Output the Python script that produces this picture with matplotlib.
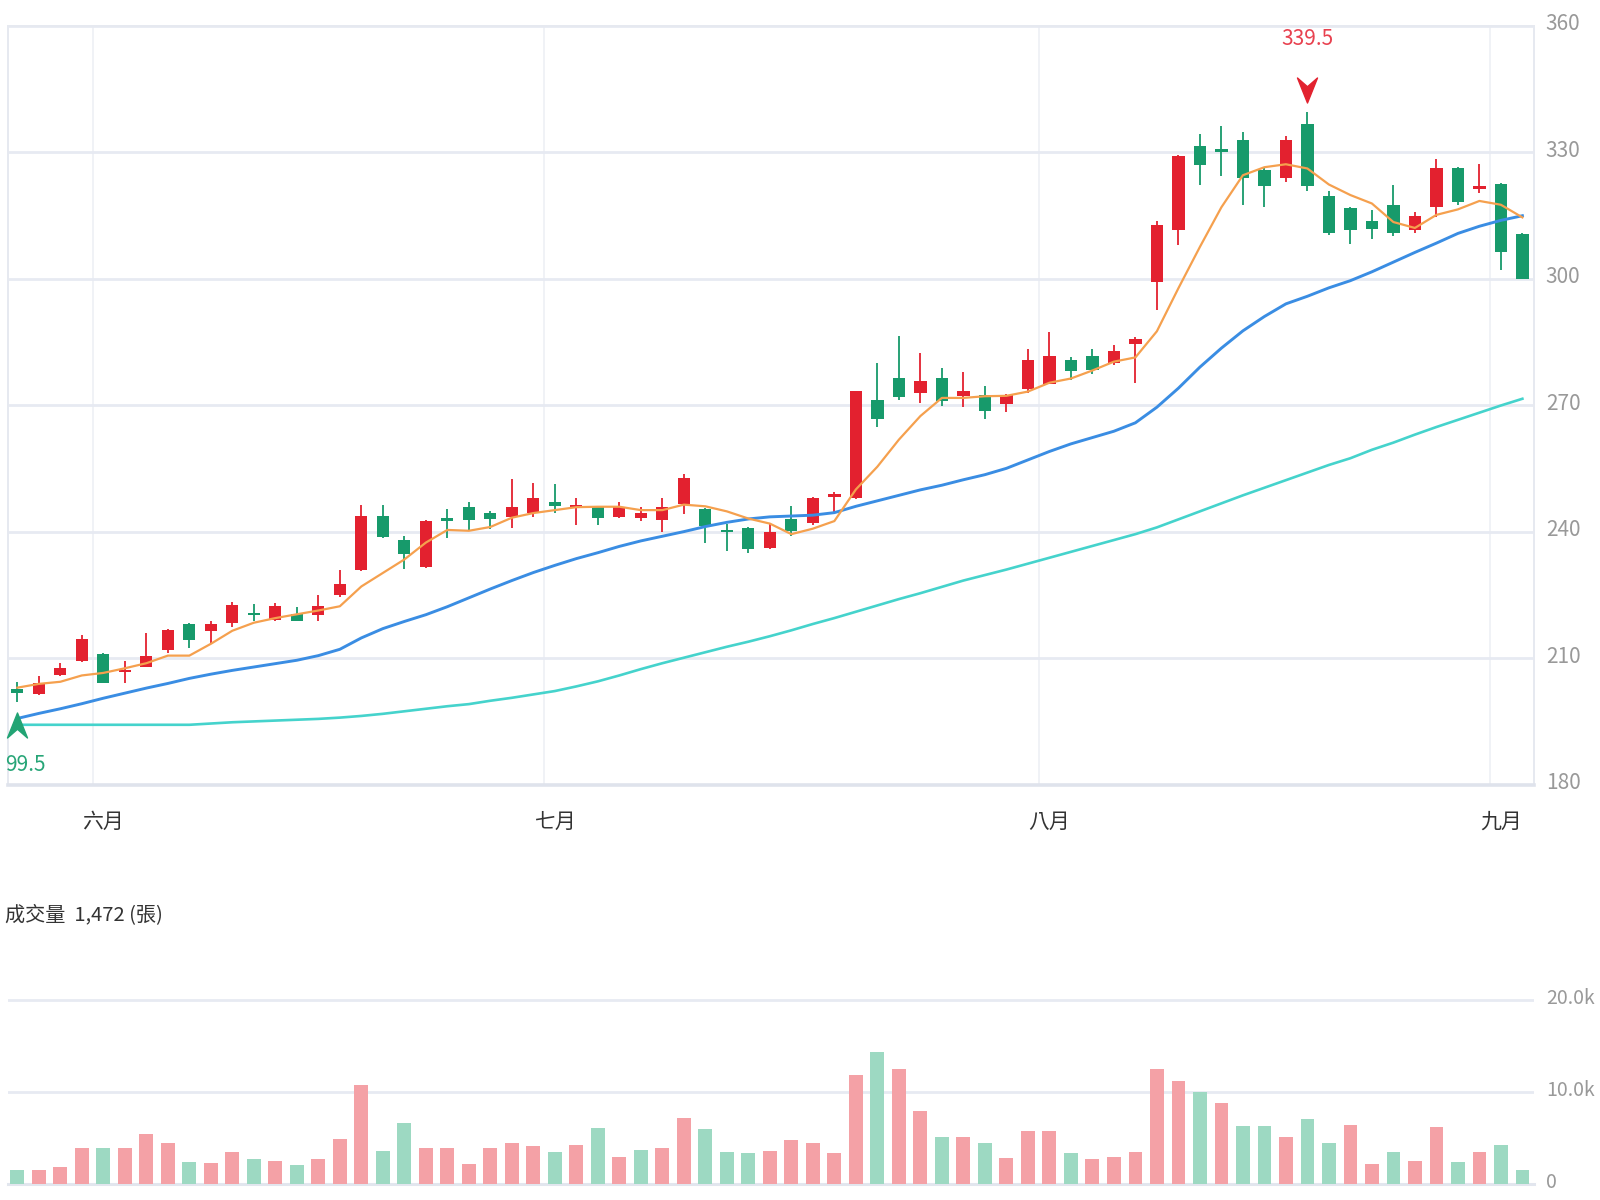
import numpy as np
import matplotlib
matplotlib.use("Agg")
import matplotlib.pyplot as plt
from matplotlib.path import Path
import matplotlib.transforms as mtransforms

plt.rcParams['font.family'] = ['Noto Sans CJK TC', 'DejaVu Sans']

# ---------------- data ----------------
opens = [202.8, 201.5, 206.0, 209.4, 211.0, 206.8, 208.0, 211.9, 218.1, 216.5,
         218.3, 220.6, 219.1, 220.5, 220.2, 225.0, 230.9, 243.6, 237.9, 231.5,
         243.3, 245.8, 244.3, 243.5, 244.3, 247.0, 245.9, 245.8, 243.5, 243.2,
         242.7, 246.6, 245.3, 240.3, 240.8, 236.0, 242.9, 242.0, 248.3, 248.0,
         271.3, 276.5, 272.8, 276.5, 272.1, 272.5, 270.2, 273.7, 275.1, 280.7,
         281.6, 280.0, 284.4, 299.1, 311.6, 331.5, 330.8, 332.8, 325.8, 323.8,
         336.6, 319.5, 316.7, 313.6, 317.5, 311.6, 317.0, 326.2, 321.2, 322.5,
         310.6]
highs = [204.4, 205.8, 208.9, 215.4, 211.3, 209.4, 215.9, 217.0, 218.3, 218.7,
         223.2, 222.8, 223.0, 222.2, 225.0, 230.9, 246.3, 246.3, 238.9, 242.8,
         245.3, 247.0, 244.9, 252.4, 251.6, 251.2, 247.9, 246.0, 247.1, 245.8,
         247.9, 253.6, 245.6, 241.7, 241.0, 242.1, 246.0, 248.3, 249.3, 273.4,
         280.0, 286.4, 282.4, 278.9, 277.8, 274.5, 272.7, 283.4, 287.3, 281.5,
         283.4, 284.2, 286.2, 313.6, 329.4, 334.3, 336.1, 334.7, 326.2, 333.9,
         339.5, 320.7, 317.0, 316.2, 322.3, 315.7, 328.3, 326.4, 327.2, 322.7,
         310.8]
lows = [199.5, 201.3, 205.8, 209.2, 204.0, 204.2, 207.8, 211.3, 212.3, 213.4,
        217.5, 218.7, 218.9, 218.8, 218.7, 224.4, 230.7, 238.6, 231.1, 231.3,
        238.6, 240.3, 240.6, 240.9, 243.5, 244.3, 241.6, 241.6, 243.3, 242.5,
        240.0, 244.1, 237.2, 235.4, 235.0, 235.8, 239.0, 241.6, 244.5, 247.8,
        264.9, 271.3, 270.6, 269.9, 269.6, 266.6, 268.3, 272.8, 274.9, 275.9,
        277.3, 279.4, 275.3, 292.5, 308.0, 322.3, 324.4, 317.5, 317.0, 322.8,
        320.7, 310.4, 308.3, 309.4, 310.0, 310.8, 314.6, 317.5, 320.3, 302.1,
        299.8]
closes = [201.7, 204.2, 207.7, 214.5, 204.2, 207.2, 210.6, 216.7, 214.3, 218.1,
          222.6, 220.2, 222.4, 218.9, 222.4, 227.5, 243.6, 238.8, 234.8, 242.4,
          242.5, 242.7, 242.9, 245.8, 247.9, 246.1, 246.3, 243.2, 245.8, 244.3,
          245.8, 252.8, 241.3, 239.9, 235.8, 239.9, 240.1, 247.9, 249.0, 273.3,
          266.8, 272.0, 275.7, 270.9, 273.3, 268.6, 272.5, 280.7, 281.6, 278.0,
          278.3, 282.8, 285.6, 312.8, 329.1, 327.0, 329.9, 323.8, 322.0, 332.8,
          321.9, 310.8, 311.6, 311.8, 310.9, 314.9, 326.2, 318.1, 322.0, 306.4,
          300.0]
ma5 = [203.0, 203.9, 204.4, 205.9, 206.5, 207.6, 208.8, 210.6, 210.6, 213.4,
       216.5, 218.4, 219.5, 220.4, 221.3, 222.3, 227.0, 230.2, 233.4, 237.4,
       240.4, 240.2, 241.1, 243.3, 244.4, 245.1, 245.8, 245.9, 245.9, 245.1,
       245.1, 246.4, 246.0, 244.8, 243.1, 241.9, 239.4, 240.7, 242.5, 250.0,
       255.4, 261.8, 267.4, 271.7, 271.7, 272.1, 272.2, 273.2, 275.3, 276.3,
       278.2, 280.3, 281.3, 287.5, 297.7, 307.5, 316.9, 324.5, 326.4, 327.1,
       326.1, 322.3, 319.8, 317.8, 313.4, 312.0, 315.1, 316.4, 318.4, 317.5,
       314.5]
ma20 = [195.7, 196.9, 198.0, 199.2, 200.5, 201.7, 202.9, 204.0, 205.2, 206.2,
        207.1, 207.9, 208.7, 209.5, 210.6, 212.1, 214.8, 217.0, 218.7, 220.3,
        222.2, 224.3, 226.4, 228.4, 230.3, 232.0, 233.6, 235.0, 236.5, 237.8,
        238.9, 240.0, 241.2, 242.2, 243.0, 243.5, 243.7, 243.9, 244.5, 246.0,
        247.3, 248.6, 249.9, 251.0, 252.3, 253.5, 255.0, 257.0, 259.0, 260.8,
        262.3, 263.8, 265.8, 269.5, 274.0, 279.0, 283.5, 287.6, 291.0, 294.0,
        295.8, 297.8, 299.5, 301.6, 303.9, 306.2, 308.4, 310.7, 312.4, 313.8,
        314.9]
ma60 = [194.2, 194.2, 194.2, 194.2, 194.2, 194.2, 194.2, 194.2, 194.2, 194.5,
        194.8, 195.0, 195.2, 195.4, 195.6, 195.9, 196.3, 196.8, 197.4, 198.0,
        198.6, 199.1, 199.9, 200.6, 201.4, 202.2, 203.3, 204.5, 205.9, 207.4,
        208.8, 210.1, 211.4, 212.7, 213.9, 215.2, 216.6, 218.1, 219.5, 221.0,
        222.5, 224.0, 225.4, 226.9, 228.4, 229.7, 231.0, 232.4, 233.8, 235.2,
        236.6, 238.0, 239.4, 241.0, 242.9, 244.8, 246.7, 248.6, 250.4, 252.2,
        254.0, 255.8, 257.4, 259.4, 261.1, 263.0, 264.8, 266.5, 268.2, 269.9,
        271.5]
volumes = [1530, 1530, 1820, 3890, 3890, 3890, 5450, 4440, 2440, 2250,
           3450, 2730, 2510, 2070, 2730, 4870, 10800, 3640, 6620, 3960,
           3960, 2180, 3890, 4510, 4150, 3530, 4250, 6070, 2980, 3710,
           3960, 7160, 5960, 3530, 3350, 3600, 4800, 4440, 3350, 11900,
           14400, 12500, 7900, 5160, 5090, 4510, 2800, 5710, 5710, 3350,
           2690, 2910, 3530, 12500, 11200, 9960, 8800, 6330, 6330, 5090,
           7050, 4510, 6440, 2180, 3530, 2550, 6180, 2440, 3530, 4250,
           1472]
# volume bar direction versus the previous close (u = up, d = down)
vol_dir = list("duuuduuudu" "ududuuuddu" "uuuuududud" "uuddduuuuu"
               "duududuuud" "uuuuududdu" "dduuduudud" "d")
month_labels = ['六月', '七月', '八月', '九月']
month_start = [4, 25, 48, 69]
price_ticks = [180, 210, 240, 270, 300, 330, 360]
vol_ticks = [0, 10000, 20000]
min_label = '99.5'      # as shown (left part cut at the chart edge)

# ---------------- style ----------------
RED = '#e3212f'
GREEN = '#179a6b'
VRED = '#f4a1a6'
VGREEN = '#9dd9c2'
GRID = '#e7eaf2'

o = np.array(opens); h = np.array(highs); l = np.array(lows); c = np.array(closes)
x = np.arange(len(o))

fig = plt.figure(figsize=(16, 12), dpi=100)
ax = fig.add_axes([0.005, 0.3461, 0.95375, 0.63265])
axv = fig.add_axes([0.005, 1 - 1184 / 1200, 0.95375, (1184 - 990.8) / 1200])

# candles
up = c >= o
ccol = np.where(up, RED, GREEN)
ax.vlines(x, l, h, colors=ccol, linewidth=1.3, zorder=3)
mid = (o + c) / 2
bh = np.maximum(np.abs(c - o), 0.55)
ax.bar(x, bh, bottom=mid - bh / 2, width=0.57, color=ccol, linewidth=0, zorder=4)

# moving averages
ax.plot(x, ma60, color='#45d3cc', lw=1.9, zorder=5)
ax.plot(x, ma20, color='#3a8de3', lw=2.1, zorder=5)
ax.plot(x, ma5, color='#f5a04e', lw=1.6, zorder=5)

ax.set_xlim(-0.435, 70.54)
ax.set_ylim(price_ticks[0], price_ticks[-1])
ax.set_yticks(price_ticks)
ax.yaxis.tick_right()
ax.tick_params(axis='y', length=0, pad=8.5, labelsize=15, labelcolor='#999999')
ax.set_xticks(month_start)
ax.set_xticklabels(month_labels)
ax.set_xticks([m - 0.5 for m in month_start], minor=True)
ax.tick_params(axis='x', which='both', length=0, pad=19, labelsize=15, labelcolor='#333333')
ax.grid(axis='y', color=GRID, lw=2, zorder=0)
ax.grid(axis='x', which='minor', color='#edf0f5', lw=1.2, zorder=0)
for s in ['left', 'right', 'top']:
    ax.spines[s].set_color('#e6e9f0')
    ax.spines[s].set_linewidth(1.4)
ax.spines['bottom'].set_color('#dfe3ec')
ax.spines['bottom'].set_linewidth(2.6)
shift = mtransforms.ScaledTranslation(0, 4 / 100, fig.dpi_scale_trans)
for lab in ax.get_yticklabels():
    lab.set_transform(lab.get_transform() + shift)

# min / max markers
imin = int(np.argmin(l)); imax = int(np.argmax(h))
arrow_up = Path([(0, 1), (0.8, -1), (0, -0.3), (-0.8, -1), (0, 1)],
                [Path.MOVETO, Path.LINETO, Path.LINETO, Path.LINETO, Path.CLOSEPOLY])
arrow_dn = Path([(0, -1), (0.8, 1), (0, 0.3), (-0.8, 1), (0, -1)],
                [Path.MOVETO, Path.LINETO, Path.LINETO, Path.LINETO, Path.CLOSEPOLY])
t_dn = mtransforms.offset_copy(ax.transData, fig=fig, x=0, y=-16.2, units='points')
t_up = mtransforms.offset_copy(ax.transData, fig=fig, x=0, y=15.8, units='points')
ax.plot([imin], [l[imin]], marker=arrow_up, markersize=18, color='#22a474',
        linestyle='none', transform=t_dn, zorder=7, clip_on=False)
ax.plot([imax], [h[imax]], marker=arrow_dn, markersize=18, color='#e2222f',
        linestyle='none', transform=t_up, zorder=7, clip_on=False)
ax.annotate(min_label, (imin, l[imin]), xytext=(-8.8, -45.4), textcoords='offset points',
            ha='left', va='center', fontsize=15, color='#27a577', annotation_clip=False)
ax.annotate(f'{h[imax]:.1f}', (imax, h[imax]), xytext=(0, 52.6), textcoords='offset points',
            ha='center', va='center', fontsize=15, color='#e8414f', annotation_clip=False)

# volume panel
vcol = [VRED if d == 'u' else VGREEN for d in vol_dir]
axv.bar(x, volumes, width=0.64, color=vcol, linewidth=0, zorder=3)
axv.set_xlim(-0.435, 70.54)
axv.set_ylim(0, 21000)
axv.set_yticks(vol_ticks)
axv.set_yticklabels(['0' if v == 0 else f'{v / 1000:.1f}k' for v in vol_ticks])
axv.yaxis.tick_right()
axv.tick_params(axis='y', length=0, pad=8.5, labelsize=14, labelcolor='#999999')
axv.set_xticks([])
axv.grid(axis='y', color=GRID, lw=2, zorder=0)
for s in ['left', 'right', 'top']:
    axv.spines[s].set_visible(False)
axv.spines['bottom'].set_color('#e2e6ee')
axv.spines['bottom'].set_linewidth(2.2)
for lab in axv.get_yticklabels():
    lab.set_transform(lab.get_transform() + shift)

fig.text(5 / 1600, 1 - 915 / 1200, f'成交量  {volumes[-1]:,} (張)', ha='left', va='center',
         fontsize=14.5, color='#333333')

fig.savefig('out.png', dpi=100, facecolor='white')
